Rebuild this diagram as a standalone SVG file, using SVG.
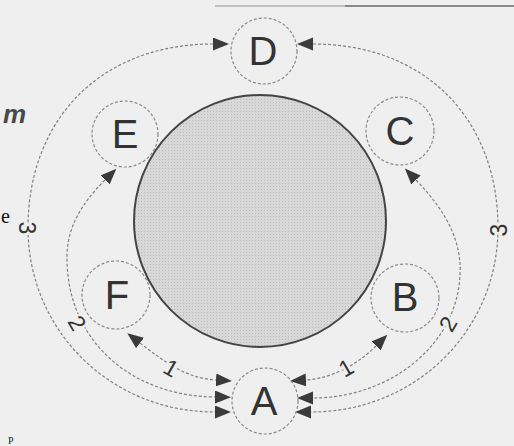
<svg xmlns="http://www.w3.org/2000/svg" width="514" height="446" viewBox="0 0 514 446">
<style>
.node{fill:none;stroke:#8a8a8a;stroke-width:1.2;stroke-dasharray:3 2}
.lbl{font-family:"Liberation Sans",Arial,sans-serif;font-size:40px;fill:#333;text-anchor:middle}
.conn{fill:none;stroke:#808080;stroke-width:1.2;stroke-dasharray:3 2;marker-start:url(#ah);marker-end:url(#ah)}
.num{font-family:"Liberation Sans",Arial,sans-serif;font-size:23px;fill:#333;text-anchor:middle;stroke:#efefef;stroke-width:5;paint-order:stroke}
</style>
<defs>
<marker id="ah" markerUnits="userSpaceOnUse" markerWidth="18" markerHeight="14" refX="0" refY="6.5" orient="auto-start-reverse">
<path d="M0,0 L16,6.5 L0,13 z" fill="#3a3a3a"/>
</marker>
<pattern id="dots" width="3" height="3" patternUnits="userSpaceOnUse">
<rect width="3" height="3" fill="#d8d8d8"/>
<rect width="1" height="1" fill="#bbbbbb"/>
</pattern>
</defs>
<rect width="514" height="446" fill="#efefef"/>
<line x1="215" y1="6" x2="345" y2="6" stroke="#b0b0b0" stroke-width="1.5"/>
<line x1="345" y1="6" x2="514" y2="6" stroke="#6a6a6a" stroke-width="1.5"/>
<text x="3" y="123" font-family="Liberation Sans, Arial, sans-serif" font-size="26" font-weight="bold" font-style="italic" fill="#4a4a4a">m</text>
<text x="1" y="223" font-family="Liberation Serif, Times New Roman, serif" font-size="20" fill="#111">e</text>
<text x="8" y="444" font-family="Liberation Serif, Times New Roman, serif" font-size="10" fill="#222">P</text>
<g id="center">
<circle cx="260" cy="221" r="126" fill="url(#dots)" stroke="#444" stroke-width="2"/>
</g>
<g id="connectors">
<path class="conn" d="M213,44 C100,44 28,120 28,228 C28,330 110,412 215,412"/>
<path class="conn" d="M313,44 C426,44 498,120 498,228 C498,330 416,412 311,412"/>
<path class="conn" d="M105,180 C80,205 66,230 67,260 C68,340 130,396 215,397"/>
<path class="conn" d="M416,180 C445,210 462,240 460,275 C457,345 390,398 313,398"/>
<path class="conn" d="M140,343 C165,362 185,378 216,380"/>
<path class="conn" d="M376,346 C360,362 335,378 306,380"/>
<g transform="translate(27,228) rotate(90)"><text class="num" y="8">3</text></g>
<g transform="translate(499,230) rotate(-90)"><text class="num" y="8">3</text></g>
<g transform="translate(77,323) rotate(60)"><text class="num" y="8">2</text></g>
<g transform="translate(448,324) rotate(-60)"><text class="num" y="8">2</text></g>
<g transform="translate(171,368) rotate(30)"><text class="num" y="8">1</text></g>
<g transform="translate(346,368) rotate(-30)"><text class="num" y="8">1</text></g>
</g>
<g id="node-D"><circle class="node" cx="264" cy="51" r="33"/><text class="lbl" x="263" y="65">D</text></g>
<g id="node-E"><circle class="node" cx="125" cy="134" r="33"/><text class="lbl" x="125" y="148">E</text></g>
<g id="node-C"><circle class="node" cx="400" cy="131" r="34"/><text class="lbl" x="400" y="145">C</text></g>
<g id="node-F"><circle class="node" cx="116" cy="295" r="34"/><text class="lbl" x="117" y="309">F</text></g>
<g id="node-B"><circle class="node" cx="405" cy="298" r="34"/><text class="lbl" x="405" y="311">B</text></g>
<g id="node-A"><circle class="node" cx="265" cy="401" r="33"/><text class="lbl" x="264" y="415">A</text></g>
</svg>
